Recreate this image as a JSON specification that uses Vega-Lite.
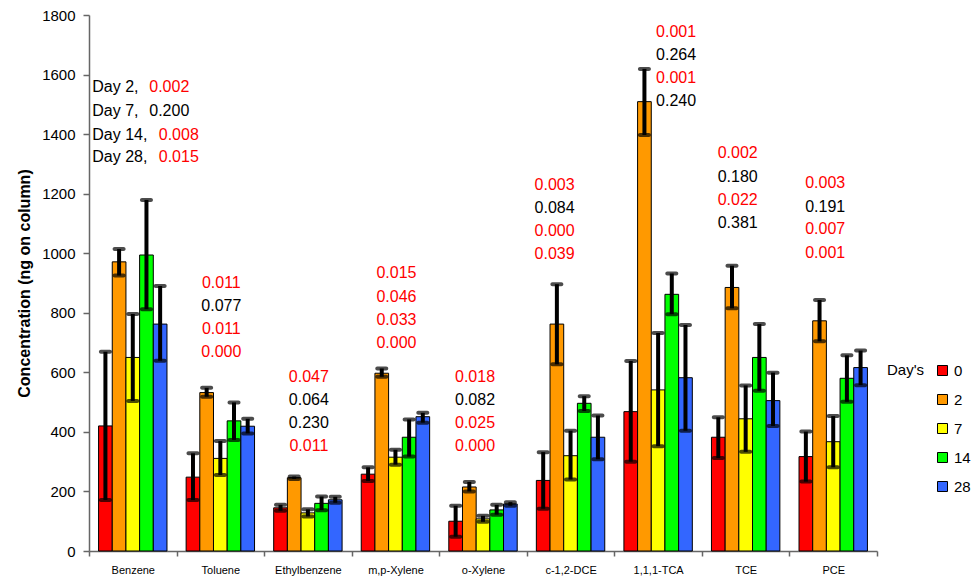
{
  "$schema": "https://vega.github.io/schema/vega-lite/v6.json",
  "width": 788,
  "height": 536,
  "autosize": "none",
  "padding": {"left": 89, "top": 15, "right": 98, "bottom": 26},
  "background": "white",
  "config": {
    "view": {"stroke": null},
    "font": "Liberation Sans",
    "axis": {"grid": false, "labelFont": "Liberation Sans", "titleFont": "Liberation Sans"},
    "legend": {"labelFont": "Liberation Sans", "titleFont": "Liberation Sans"}
  },
  "datasets": {
    "bars": [
      {"chem": "Benzene", "day": "0", "mean": 420, "lo": 171, "hi": 669},
      {"chem": "Benzene", "day": "2", "mean": 971, "lo": 925, "hi": 1014},
      {"chem": "Benzene", "day": "7", "mean": 650, "lo": 504, "hi": 796},
      {"chem": "Benzene", "day": "14", "mean": 994, "lo": 812, "hi": 1179},
      {"chem": "Benzene", "day": "28", "mean": 762, "lo": 639, "hi": 890},
      {"chem": "Toluene", "day": "0", "mean": 248, "lo": 171, "hi": 328},
      {"chem": "Toluene", "day": "2", "mean": 532, "lo": 518, "hi": 548},
      {"chem": "Toluene", "day": "7", "mean": 311, "lo": 255, "hi": 369},
      {"chem": "Toluene", "day": "14", "mean": 437, "lo": 373, "hi": 499},
      {"chem": "Toluene", "day": "28", "mean": 419, "lo": 395, "hi": 444},
      {"chem": "Ethylbenzene", "day": "0", "mean": 145, "lo": 135, "hi": 155},
      {"chem": "Ethylbenzene", "day": "2", "mean": 246, "lo": 242, "hi": 250},
      {"chem": "Ethylbenzene", "day": "7", "mean": 128, "lo": 116, "hi": 140},
      {"chem": "Ethylbenzene", "day": "14", "mean": 160, "lo": 137, "hi": 183},
      {"chem": "Ethylbenzene", "day": "28", "mean": 172, "lo": 162, "hi": 182},
      {"chem": "m,p-Xylene", "day": "0", "mean": 258, "lo": 235, "hi": 281},
      {"chem": "m,p-Xylene", "day": "2", "mean": 597, "lo": 585, "hi": 613},
      {"chem": "m,p-Xylene", "day": "7", "mean": 315, "lo": 290, "hi": 340},
      {"chem": "m,p-Xylene", "day": "14", "mean": 382, "lo": 317, "hi": 442},
      {"chem": "m,p-Xylene", "day": "28", "mean": 451, "lo": 431, "hi": 464},
      {"chem": "o-Xylene", "day": "0", "mean": 100, "lo": 48, "hi": 152},
      {"chem": "o-Xylene", "day": "2", "mean": 215, "lo": 200, "hi": 232},
      {"chem": "o-Xylene", "day": "7", "mean": 108, "lo": 98, "hi": 118},
      {"chem": "o-Xylene", "day": "14", "mean": 138, "lo": 122, "hi": 155},
      {"chem": "o-Xylene", "day": "28", "mean": 158, "lo": 152, "hi": 164},
      {"chem": "c-1,2-DCE", "day": "0", "mean": 237, "lo": 142, "hi": 332},
      {"chem": "c-1,2-DCE", "day": "2", "mean": 762, "lo": 627, "hi": 896},
      {"chem": "c-1,2-DCE", "day": "7", "mean": 320, "lo": 240, "hi": 404},
      {"chem": "c-1,2-DCE", "day": "14", "mean": 496, "lo": 470, "hi": 520},
      {"chem": "c-1,2-DCE", "day": "28", "mean": 382, "lo": 308, "hi": 455},
      {"chem": "1,1,1-TCA", "day": "0", "mean": 468, "lo": 300, "hi": 638},
      {"chem": "1,1,1-TCA", "day": "2", "mean": 1509, "lo": 1397, "hi": 1619},
      {"chem": "1,1,1-TCA", "day": "7", "mean": 541, "lo": 352, "hi": 732},
      {"chem": "1,1,1-TCA", "day": "14", "mean": 862, "lo": 795, "hi": 932},
      {"chem": "1,1,1-TCA", "day": "28", "mean": 582, "lo": 404, "hi": 759},
      {"chem": "TCE", "day": "0", "mean": 382, "lo": 312, "hi": 449},
      {"chem": "TCE", "day": "2", "mean": 885, "lo": 815, "hi": 958},
      {"chem": "TCE", "day": "7", "mean": 444, "lo": 333, "hi": 556},
      {"chem": "TCE", "day": "14", "mean": 650, "lo": 538, "hi": 762},
      {"chem": "TCE", "day": "28", "mean": 505, "lo": 420, "hi": 599},
      {"chem": "PCE", "day": "0", "mean": 317, "lo": 233, "hi": 401},
      {"chem": "PCE", "day": "2", "mean": 773, "lo": 704, "hi": 843},
      {"chem": "PCE", "day": "7", "mean": 367, "lo": 281, "hi": 453},
      {"chem": "PCE", "day": "14", "mean": 580, "lo": 501, "hi": 657},
      {"chem": "PCE", "day": "28", "mean": 616, "lo": 557, "hi": 673}
    ],
    "notes": [
      {"chem": "Benzene", "lab": "Day 2,", "p": 0.002, "ylab": 1559},
      {"chem": "Benzene", "lab": "Day 7,", "p": 0.200, "ylab": 1479},
      {"chem": "Benzene", "lab": "Day 14,", "p": 0.008, "ylab": 1397},
      {"chem": "Benzene", "lab": "Day 28,", "p": 0.015, "ylab": 1322},
      {"chem": "Toluene", "p": 0.011, "ylab": 899},
      {"chem": "Toluene", "p": 0.077, "ylab": 824},
      {"chem": "Toluene", "p": 0.011, "ylab": 745},
      {"chem": "Toluene", "p": 0.000, "ylab": 669},
      {"chem": "Ethylbenzene", "p": 0.047, "ylab": 585},
      {"chem": "Ethylbenzene", "p": 0.064, "ylab": 507},
      {"chem": "Ethylbenzene", "p": 0.230, "ylab": 431},
      {"chem": "Ethylbenzene", "p": 0.011, "ylab": 353},
      {"chem": "m,p-Xylene", "p": 0.015, "ylab": 932},
      {"chem": "m,p-Xylene", "p": 0.046, "ylab": 854},
      {"chem": "m,p-Xylene", "p": 0.033, "ylab": 776},
      {"chem": "m,p-Xylene", "p": 0.000, "ylab": 698},
      {"chem": "o-Xylene", "p": 0.018, "ylab": 585},
      {"chem": "o-Xylene", "p": 0.082, "ylab": 507},
      {"chem": "o-Xylene", "p": 0.025, "ylab": 431},
      {"chem": "o-Xylene", "p": 0.000, "ylab": 353},
      {"chem": "c-1,2-DCE", "p": 0.003, "ylab": 1229},
      {"chem": "c-1,2-DCE", "p": 0.084, "ylab": 1151},
      {"chem": "c-1,2-DCE", "p": 0.000, "ylab": 1076},
      {"chem": "c-1,2-DCE", "p": 0.039, "ylab": 997},
      {"chem": "1,1,1-TCA", "p": 0.001, "ylab": 1742},
      {"chem": "1,1,1-TCA", "p": 0.264, "ylab": 1666},
      {"chem": "1,1,1-TCA", "p": 0.001, "ylab": 1587},
      {"chem": "1,1,1-TCA", "p": 0.240, "ylab": 1512},
      {"chem": "TCE", "p": 0.002, "ylab": 1335},
      {"chem": "TCE", "p": 0.180, "ylab": 1257},
      {"chem": "TCE", "p": 0.022, "ylab": 1179},
      {"chem": "TCE", "p": 0.381, "ylab": 1102},
      {"chem": "PCE", "p": 0.003, "ylab": 1235},
      {"chem": "PCE", "p": 0.191, "ylab": 1156},
      {"chem": "PCE", "p": 0.007, "ylab": 1080},
      {"chem": "PCE", "p": 0.001, "ylab": 1000}
    ]
  },
  "layer": [
    {
      "data": {"name": "bars"},
      "mark": {"type": "bar", "stroke": "black", "strokeWidth": 1},
      "encoding": {
        "x": {
          "field": "chem", "type": "nominal",
          "sort": ["Benzene", "Toluene", "Ethylbenzene", "m,p-Xylene", "o-Xylene", "c-1,2-DCE", "1,1,1-TCA", "TCE", "PCE"],
          "scale": {"paddingInner": 0, "paddingOuter": 0},
          "title": null,
          "axis": {"labelAngle": 0, "labelFontSize": 11, "labelColor": "black", "tickBand": "extent", "tickSize": 5, "labelPadding": 8, "domainColor": "#666", "tickColor": "#666", "domainWidth": 1.5, "tickWidth": 1.5}
        },
        "xOffset": {
          "field": "day", "type": "nominal",
          "sort": ["0", "2", "7", "14", "28"],
          "scale": {"paddingInner": 0, "paddingOuter": 0.7}
        },
        "y": {
          "field": "mean", "type": "quantitative",
          "title": "Concentration (ng on column)",
          "scale": {"domain": [0, 1800], "nice": false},
          "axis": {"values": [0, 200, 400, 600, 800, 1000, 1200, 1400, 1600, 1800], "format": "d", "labelFontSize": 15, "labelColor": "black", "tickSize": 6, "labelPadding": 8, "domainColor": "#666", "tickColor": "#666", "domainWidth": 1.5, "tickWidth": 1.5, "titleFontSize": 16, "titleFontWeight": "bold", "titleColor": "black", "titlePadding": 9}
        },
        "color": {
          "field": "day", "type": "nominal",
          "sort": ["0", "2", "7", "14", "28"],
          "scale": {"domain": ["0", "2", "7", "14", "28"], "range": ["#FF0000", "#FF9900", "#FFFF00", "#00FF00", "#3366FF"]},
          "legend": {
            "title": "Day's", "titleOrient": "left", "titleAnchor": "start", "orient": "none", "legendX": 798, "legendY": 348,
            "titleFontSize": 15, "titleFontWeight": "normal", "titleColor": "black", "titlePadding": 10,
            "labelFontSize": 15, "labelColor": "black", "labelOffset": 4,
            "symbolType": "square", "symbolSize": 100, "symbolStrokeColor": "black", "symbolStrokeWidth": 1, "symbolOpacity": 1,
            "rowPadding": 13
          }
        }
      }
    },
    {
      "data": {"name": "bars"},
      "mark": {"type": "rule", "strokeWidth": 4, "color": "black"},
      "encoding": {
        "x": {"field": "chem", "type": "nominal", "sort": ["Benzene", "Toluene", "Ethylbenzene", "m,p-Xylene", "o-Xylene", "c-1,2-DCE", "1,1,1-TCA", "TCE", "PCE"], "title": null},
        "xOffset": {"field": "day", "type": "nominal", "sort": ["0", "2", "7", "14", "28"]},
        "y": {"field": "lo", "type": "quantitative", "title": "Concentration (ng on column)"},
        "y2": {"field": "hi"}
      }
    },
    {
      "data": {"name": "bars"},
      "mark": {"type": "tick", "thickness": 4, "size": 13, "color": "black", "cornerRadius": 2},
      "encoding": {
        "x": {"field": "chem", "type": "nominal", "sort": ["Benzene", "Toluene", "Ethylbenzene", "m,p-Xylene", "o-Xylene", "c-1,2-DCE", "1,1,1-TCA", "TCE", "PCE"], "title": null},
        "xOffset": {"field": "day", "type": "nominal", "sort": ["0", "2", "7", "14", "28"]},
        "y": {"field": "lo", "type": "quantitative", "title": "Concentration (ng on column)"}
      }
    },
    {
      "data": {"name": "bars"},
      "mark": {"type": "tick", "thickness": 4, "size": 13, "color": "black", "cornerRadius": 2},
      "encoding": {
        "x": {"field": "chem", "type": "nominal", "sort": ["Benzene", "Toluene", "Ethylbenzene", "m,p-Xylene", "o-Xylene", "c-1,2-DCE", "1,1,1-TCA", "TCE", "PCE"], "title": null},
        "xOffset": {"field": "day", "type": "nominal", "sort": ["0", "2", "7", "14", "28"]},
        "y": {"field": "hi", "type": "quantitative", "title": "Concentration (ng on column)"}
      }
    },
    {
      "data": {"name": "notes"},
      "transform": [{"filter": {"field": "chem", "oneOf": ["Toluene", "Ethylbenzene", "m,p-Xylene"]}}],
      "mark": {"type": "text", "fontSize": 16, "align": "center", "baseline": "middle", "dx": 1},
      "encoding": {
        "x": {"field": "chem", "type": "nominal", "sort": ["Benzene", "Toluene", "Ethylbenzene", "m,p-Xylene", "o-Xylene", "c-1,2-DCE", "1,1,1-TCA", "TCE", "PCE"], "title": null},
        "y": {"field": "ylab", "type": "quantitative", "title": "Concentration (ng on column)"},
        "text": {"field": "p", "type": "quantitative", "format": ".3f"},
        "color": {"condition": {"test": "datum.p < 0.05", "value": "#FF0000"}, "value": "black"}
      }
    },
    {
      "data": {"name": "notes"},
      "transform": [{"filter": {"field": "chem", "oneOf": ["o-Xylene", "TCE", "PCE"]}}],
      "mark": {"type": "text", "fontSize": 16, "align": "center", "baseline": "middle", "dx": -8},
      "encoding": {
        "x": {"field": "chem", "type": "nominal", "sort": ["Benzene", "Toluene", "Ethylbenzene", "m,p-Xylene", "o-Xylene", "c-1,2-DCE", "1,1,1-TCA", "TCE", "PCE"], "title": null},
        "y": {"field": "ylab", "type": "quantitative", "title": "Concentration (ng on column)"},
        "text": {"field": "p", "type": "quantitative", "format": ".3f"},
        "color": {"condition": {"test": "datum.p < 0.05", "value": "#FF0000"}, "value": "black"}
      }
    },
    {
      "data": {"name": "notes"},
      "transform": [{"filter": {"field": "chem", "equal": "c-1,2-DCE"}}],
      "mark": {"type": "text", "fontSize": 16, "align": "center", "baseline": "middle", "dx": -16},
      "encoding": {
        "x": {"field": "chem", "type": "nominal", "sort": ["Benzene", "Toluene", "Ethylbenzene", "m,p-Xylene", "o-Xylene", "c-1,2-DCE", "1,1,1-TCA", "TCE", "PCE"], "title": null},
        "y": {"field": "ylab", "type": "quantitative", "title": "Concentration (ng on column)"},
        "text": {"field": "p", "type": "quantitative", "format": ".3f"},
        "color": {"condition": {"test": "datum.p < 0.05", "value": "#FF0000"}, "value": "black"}
      }
    },
    {
      "data": {"name": "notes"},
      "transform": [{"filter": {"field": "chem", "equal": "1,1,1-TCA"}}],
      "mark": {"type": "text", "fontSize": 16, "align": "center", "baseline": "middle", "dx": 18},
      "encoding": {
        "x": {"field": "chem", "type": "nominal", "sort": ["Benzene", "Toluene", "Ethylbenzene", "m,p-Xylene", "o-Xylene", "c-1,2-DCE", "1,1,1-TCA", "TCE", "PCE"], "title": null},
        "y": {"field": "ylab", "type": "quantitative", "title": "Concentration (ng on column)"},
        "text": {"field": "p", "type": "quantitative", "format": ".3f"},
        "color": {"condition": {"test": "datum.p < 0.05", "value": "#FF0000"}, "value": "black"}
      }
    },
    {
      "data": {"name": "notes"},
      "transform": [{"filter": {"field": "chem", "equal": "Benzene"}}],
      "mark": {"type": "text", "fontSize": 16, "align": "left", "baseline": "middle", "dx": -40.5, "color": "black"},
      "encoding": {
        "x": {"field": "chem", "type": "nominal", "sort": ["Benzene", "Toluene", "Ethylbenzene", "m,p-Xylene", "o-Xylene", "c-1,2-DCE", "1,1,1-TCA", "TCE", "PCE"], "title": null},
        "y": {"field": "ylab", "type": "quantitative", "title": "Concentration (ng on column)"},
        "text": {"field": "lab", "type": "nominal"}
      }
    },
    {
      "data": {"name": "notes"},
      "transform": [{"filter": {"field": "lab", "oneOf": ["Day 2,", "Day 7,"]}}],
      "mark": {"type": "text", "fontSize": 16, "align": "left", "baseline": "middle", "dx": 16.5},
      "encoding": {
        "x": {"field": "chem", "type": "nominal", "sort": ["Benzene", "Toluene", "Ethylbenzene", "m,p-Xylene", "o-Xylene", "c-1,2-DCE", "1,1,1-TCA", "TCE", "PCE"], "title": null},
        "y": {"field": "ylab", "type": "quantitative", "title": "Concentration (ng on column)"},
        "text": {"field": "p", "type": "quantitative", "format": ".3f"},
        "color": {"condition": {"test": "datum.p < 0.05", "value": "#FF0000"}, "value": "black"}
      }
    },
    {
      "data": {"name": "notes"},
      "transform": [{"filter": {"field": "lab", "oneOf": ["Day 14,", "Day 28,"]}}],
      "mark": {"type": "text", "fontSize": 16, "align": "left", "baseline": "middle", "dx": 26},
      "encoding": {
        "x": {"field": "chem", "type": "nominal", "sort": ["Benzene", "Toluene", "Ethylbenzene", "m,p-Xylene", "o-Xylene", "c-1,2-DCE", "1,1,1-TCA", "TCE", "PCE"], "title": null},
        "y": {"field": "ylab", "type": "quantitative", "title": "Concentration (ng on column)"},
        "text": {"field": "p", "type": "quantitative", "format": ".3f"},
        "color": {"condition": {"test": "datum.p < 0.05", "value": "#FF0000"}, "value": "black"}
      }
    }
  ]
}
